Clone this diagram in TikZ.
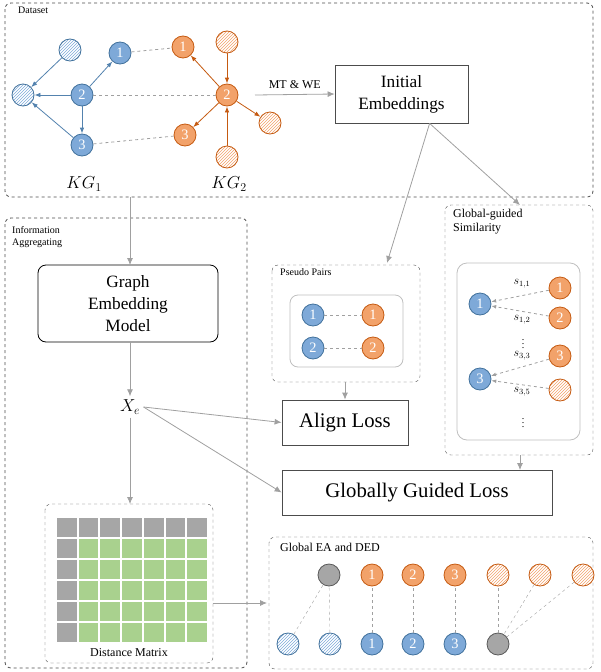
\documentclass[tikz,border=0pt]{standalone}
\usepackage{fontspec}
\setmainfont{Liberation Serif}
\usetikzlibrary{patterns,arrows.meta}
\definecolor{bf}{HTML}{7EA9D8}\definecolor{bd}{HTML}{41719C}
\definecolor{of}{HTML}{F2A26A}\definecolor{od}{HTML}{C55A11}
\definecolor{ga}{HTML}{A0A0A0}\definecolor{gr}{HTML}{A9D18E}\definecolor{gc}{HTML}{A6A6A6}
\begin{document}
\begin{tikzpicture}[x=1pt,y=-1pt,
 dbox/.style={draw=gray!60!black,dashed,rounded corners=6pt,thick},
 box/.style={draw=gray!60!black,thick,fill=white,align=center},
 b/.style={circle,draw=bd,fill=bf,thick,minimum size=22pt,inner sep=0,text=white,font=\Large},
 o/.style={circle,draw=od,fill=of,thick,minimum size=22pt,inner sep=0,text=white,font=\Large},
 bh/.style={circle,draw=bd,thick,minimum size=22pt,inner sep=0,pattern=north east lines,pattern color=bf},
 oh/.style={circle,draw=od,thick,minimum size=22pt,inner sep=0,pattern=north east lines,pattern color=of},
 gn/.style={circle,draw=gray!70!black,fill=gc,thick,minimum size=22pt,inner sep=0},
 arr/.style={draw=ga,thick,-{Latex[length=7pt,width=6pt]}},
 dl/.style={draw=ga,thick,dashed},
 lab/.style={font=\normalsize,anchor=north west,align=left,inner sep=2pt}]
\useasboundingbox (0,0) rectangle (600,672);
% dataset
\draw[dbox] (5,3) rectangle (593,197);
\node[lab] (dsl) at (16,5) {Dataset};
\node[bh] (bt) at (70,50) {}; \node[bh] (bl) at (23,95) {};
\node[b] (b1) at (120,53) {1}; \node[b] (b2) at (82,95) {2}; \node[b] (b3) at (82,145) {3};
\node[o] (o1) at (183,47) {1}; \node[oh] (ot) at (227,42) {};
\node[o] (o2) at (227,95) {2}; \node[o] (o3) at (185,135) {3};
\node[oh] (or) at (270,123) {}; \node[oh] (ob) at (227,157) {};
\foreach \s/\t in {bt/bl,b2/bl,b3/bl,b2/b1,b2/b3}\draw[bd!70!bf,thick,-{Latex[length=6pt]}] (\s)--(\t);
\foreach \s/\t in {o2/o1,ot/o2,o2/o3,o2/or,ob/o2}\draw[od,thick,-{Latex[length=6pt]}] (\s)--(\t);
\foreach \s/\t in {b1/o1,b2/o2,b3/o3}\draw[dl] (\s)--(\t);
\node (kg1) at (84,184) {\LARGE $KG_1$}; \node (kg2) at (229,184) {\LARGE $KG_2$};
\node[box,minimum width=133pt,minimum height=58pt,font=\LARGE,text width=125pt] (ie) at (401.5,94) {Initial\\Embeddings};
\coordinate (mt) at (255,95);
\draw[arr] (mt)--(ie.west) node[midway,above=2pt,text=black,font=\large] {MT \& WE};
% info aggregating
\draw[dbox] (5,218) rectangle (247,668);
\node[lab] (ial) at (10,224) {Information\\Aggregating};
\node[box,draw=black,rounded corners=8pt,minimum width=180pt,minimum height=77pt,font=\LARGE,text width=170pt] (gem) at (128,303.5) {Graph\\Embedding\\Model};
\coordinate (dsb) at (130,197);
\draw[arr] (dsb)--(130,265);
\node[font=\LARGE] (xe) at (130,407) {$X_e$};
\draw[arr] (gem.south -| 130,0)--(xe.north);
\draw[dbox,thin] (45,504) rectangle (213,663);
\draw[arr] (xe.south)--(130,504);
\foreach \i in {0,...,6}\foreach \j in {0,...,5}{
 \pgfmathsetmacro\xx{56+\i*21.7}\pgfmathsetmacro\yy{517+\j*21}
 \ifnum\i=0 \def\cc{gc}\else\ifnum\j=0 \def\cc{gc}\else\def\cc{gr}\fi\fi
 \fill[\cc] (\xx+1,\yy+1) rectangle (\xx+20.7,\yy+20);}
\node[font=\large] (dm) at (129,653) {Distance Matrix};
% pseudo pairs
\draw[dbox,thin] (272,265) rectangle (420,382);
\node[lab] (ppl) at (278,266) {Pseudo Pairs};
\draw[gray!50,thick,rounded corners=8pt] (290,295) rectangle (403,367);
\node[b] (p1) at (313,315) {1}; \node[o] (q1) at (373,315) {1};
\node[b] (p2) at (313,348) {2}; \node[o] (q2) at (373,348) {2};
\draw[dl] (p1)--(q1); \draw[dl] (p2)--(q2);
\node[box,minimum width=126pt,minimum height=45pt,font=\huge] (al) at (345,422.5) {Align Loss};
\node[box,minimum width=270pt,minimum height=45pt,font=\huge] (gl) at (417,492.5) {Globally Guided Loss};
\draw[arr] (345,382)--(al.north);
\draw[arr] (ie.south west)++(95,0) coordinate (ies) -- (387,263);
\draw[arr] (ies)--(520,205);
\draw[arr] (xe.east)--(al.west);
\draw[arr] (xe.east)--(gl.west);
% global-guided similarity
\draw[dbox,thin] (445,205) rectangle (593,455);
\node[lab,font=\large] (gsl) at (451,207) {Global-guided\\Similarity};
\draw[gray!50,thick,rounded corners=10pt] (457,263) rectangle (580,440);
\node[b] (s1) at (480,304) {1}; \node[b] (s3) at (480,379) {3};
\node[o] (t1) at (560,288) {1}; \node[o] (t2) at (560,318) {2};
\node[o] (t3) at (560,356) {3}; \node[oh] (t5) at (560,390) {};
\foreach \s/\t in {t1/s1,t2/s1,t3/s3,t5/s3}\draw[dl,-{Latex[length=5pt]}] (\s)--(\t);
\node[font=\large] (l11) at (522,284) {$s_{1,1}$}; \node[font=\large] (l12) at (522,320) {$s_{1,2}$};
\node[inner sep=0] (d1) at (523,341) {$\vdots$}; \node[font=\large] (l33) at (522,356) {$s_{3,3}$};
\node[font=\large] (l35) at (522,392) {$s_{3,5}$}; \node[inner sep=0] (d2) at (523,420) {$\vdots$};
\draw[arr] (520,455)--(520,470);
% global EA
\draw[dbox,thin] (269,537) rectangle (593,669);
\node[lab,font=\large] (eal) at (278,541) {Global EA and DED};
\draw[arr] (213,603)--(267,603);
\node[gn] (u0) at (329,575) {}; \node[o] (u1) at (372,575) {1}; \node[o] (u2) at (413,575) {2};
\node[o] (u3) at (455,575) {3}; \node[oh] (u4) at (498,575) {}; \node[oh] (u5) at (540,575) {}; \node[oh] (u6) at (583,575) {};
\node[bh] (v0) at (288,644) {}; \node[bh] (v1) at (330,644) {}; \node[b] (v2) at (372,644) {1};
\node[b] (v3) at (413,644) {2}; \node[b] (v4) at (455,644) {3}; \node[gn] (v5) at (498,644) {};
\draw[dl,thin] (v0)--(u0); \draw[dl,thin] (v1)--(u0); \draw[dl,thin] (v2)--(u1);
\draw[dl,thin] (v3)--(u2); \draw[dl,thin] (v4)--(u3); \draw[dl,thin] (v5)--(u4);
\draw[dl,thin] (u5)--(v5); \draw[dl,thin] (u6)--(v5);
\end{tikzpicture}
\end{document}
